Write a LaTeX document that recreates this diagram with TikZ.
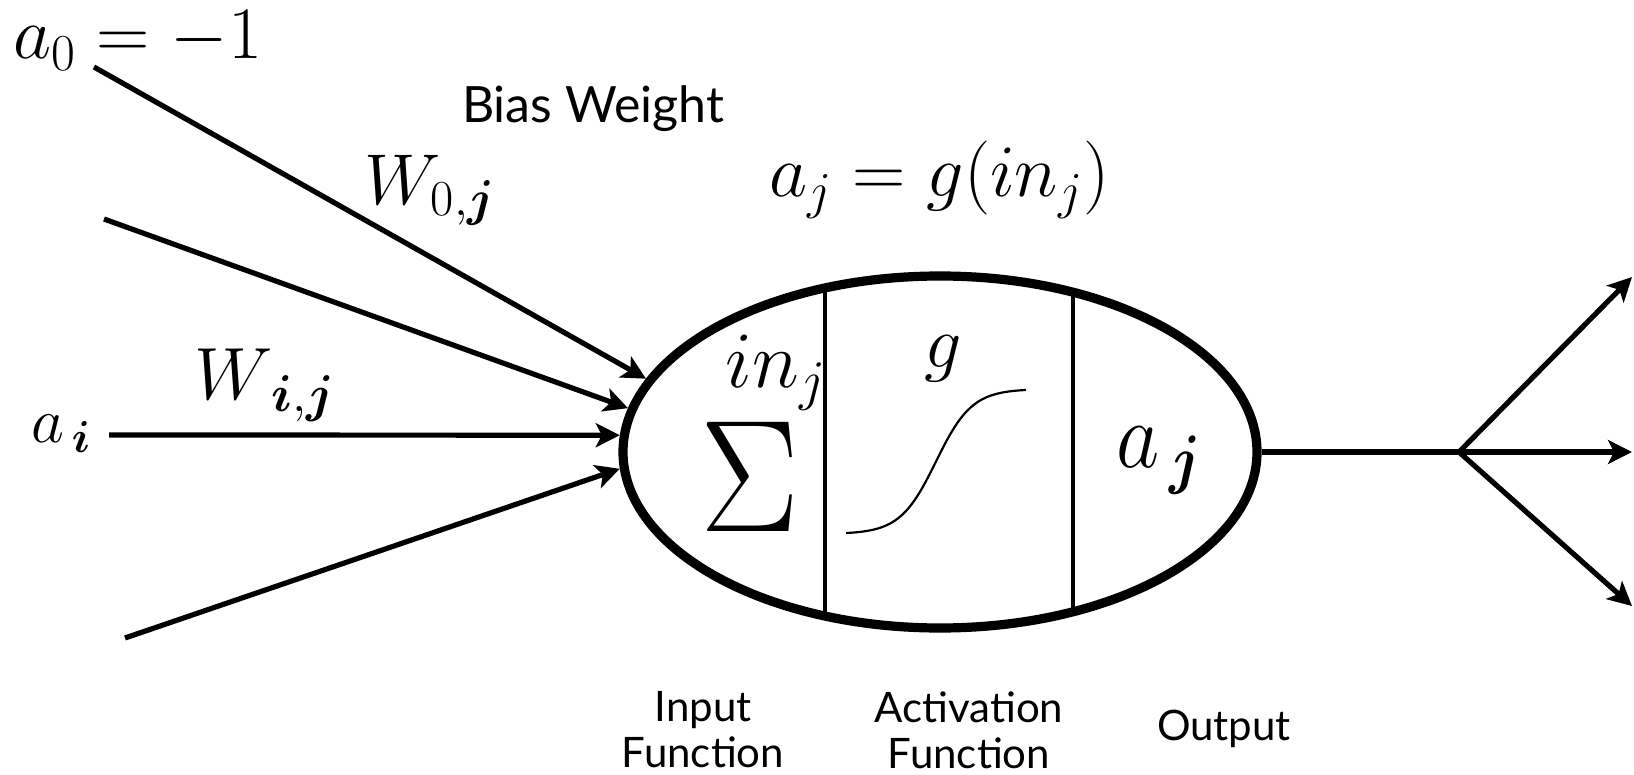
\RequirePackage{fix-cm}
\documentclass[tikz,border=0pt]{standalone}
\usepackage{bm}
\usepackage{fontspec}
\newfontfamily\labelfont{Lato}
\usetikzlibrary{shapes.geometric,arrows.meta}
\begin{document}
\begin{tikzpicture}[x=0.5pt,y=-0.5pt,
  wire/.style={line width=2.6pt},
  arr/.style={wire,-{Stealth[length=12pt,width=12pt,inset=3pt]}},
  lbl/.style={inner sep=0pt},
  txt/.style={inner sep=0pt, anchor=center, align=center,
    font=\labelfont\fontsize{21}{23}\selectfont},
  msize/.style={font=\fontsize{#1}{#1}\selectfont},
]
\useasboundingbox (0,0) rectangle (1634,775);

% labels above
\node[lbl,msize=37,anchor=base west] (a0) at (13,59) {$a_0 = -1$};
\node[lbl,anchor=base,font=\labelfont\fontsize{25}{28}\selectfont] (bias) at (593,123) {Bias Weight};
\node[lbl,msize=36,anchor=base west] (w0) at (364,205) {$W_{0,\bm{j}}$};
\node[lbl,msize=37,anchor=base west] (ajeq) at (769,197) {$a_j = g(in_j)$};
\node[lbl,msize=37,anchor=base west] (wi) at (194,400) {$W_{\,\bm{i},\bm{j}}$};
\node[lbl,msize=32,anchor=base west] (ai) at (31,443) {$a_{\,\bm{i}}$};

% dividers inside the neuron
\begin{scope}
  \clip (940,452) ellipse [x radius=158.5pt, y radius=88pt];
  \draw[line width=2pt] (825,250) -- (825,650);
  \draw[line width=2pt] (1073,250) -- (1073,650);
\end{scope}

% neuron
\node[draw, ellipse, line width=4.6pt, inner sep=0pt,
      minimum width=317pt, minimum height=176pt] (neuron) at (940,452) {};

\node[lbl,msize=40,anchor=center] (inj) at (776,373) {$in_j$};
\node[lbl,msize=74,anchor=center] (sigma) at (750,477) {\scalebox{1}[1.08]{$\Sigma$}};
\node[lbl,msize=37,anchor=center] (g) at (943,359) {$g$};
\node[lbl,msize=42,anchor=base west] (aj) at (1116,467) {\scalebox{1}[1.12]{$a_{\,\bm{j}}$}};

% sigmoid
\draw[line width=1.1pt] plot[smooth, domain=-5:5, samples=60]
  ({936+18*\x},{534-145/(1+exp(-\x))});

% inputs
\coordinate (s0) at (94,67);
\coordinate (s1) at (104,219);
\coordinate (s2) at (109,435);
\coordinate (s3) at (125,638);
\draw[arr] (s0) -- (neuron.166.6);
\draw[arr] (s1) -- (neuron.172.3);
\draw[arr] (s2) -- (neuron.177.5);
\draw[arr] (s3) -- (neuron.183.4);

% output
\coordinate (br) at (1459,452);
\coordinate (o1) at (1632,277);
\coordinate (o2) at (1632,452);
\coordinate (o3) at (1632,606);
\draw[wire] (neuron.east) -- (br);
\draw[arr] (br) -- (o1);
\draw[arr] (br) -- (o2);
\draw[arr] (br) -- (o3);

% bottom labels
\node[txt] (lin) at (703,730) {Input\\Function};
\node[txt] (lact) at (969,730) {Activation\\Function};
\node[txt] (lout) at (1224,729) {Output};
\end{tikzpicture}
\end{document}
